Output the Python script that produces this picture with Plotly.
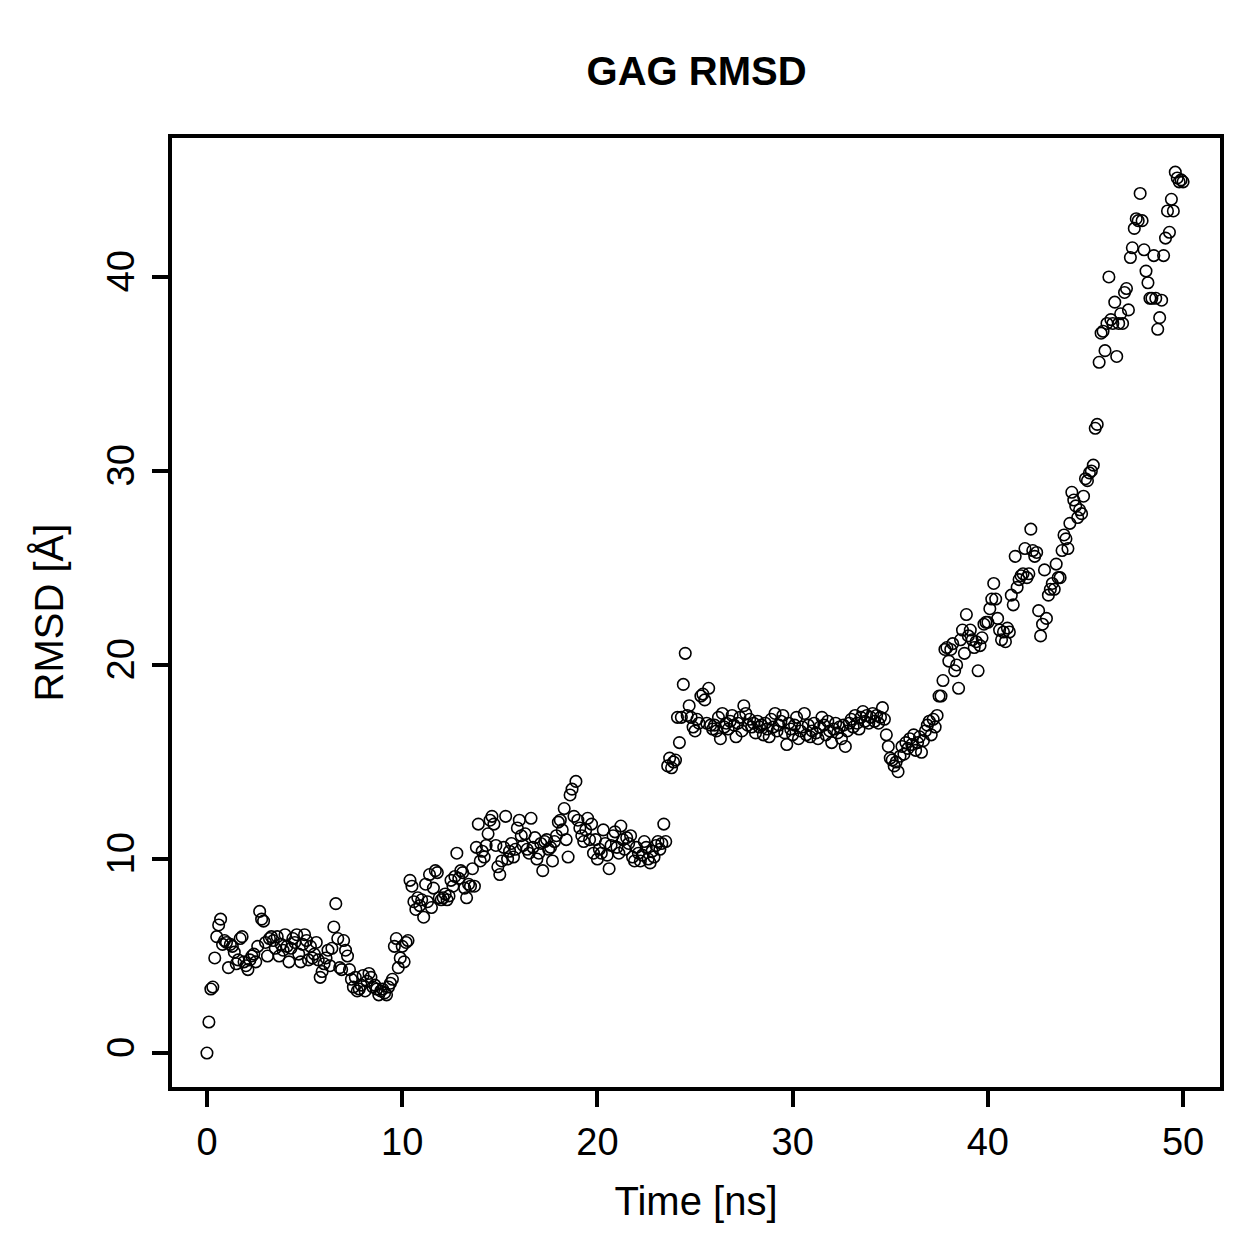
import plotly.graph_objects as go

time_ns = [round(i * 0.1, 1) for i in range(501)]

rmsd = [
    # 0-1
    0.0, 1.6, 3.3, 3.4, 4.9, 6.0, 6.6, 6.9, 5.6, 5.8,
    # 1-2
    5.7, 4.4, 5.6, 5.5, 5.2, 4.6, 4.8, 5.9, 6.0, 4.7,
    # 2-3
    4.5, 4.3, 4.8, 5.0, 5.1, 4.7, 5.5, 7.3, 6.9, 6.8,
    # 3-4
    5.7, 5.0, 5.9, 6.0, 5.8, 5.4, 6.0, 5.0, 5.6, 5.3,
    # 4-5
    6.1, 5.5, 4.7, 5.4, 5.9, 5.7, 6.1, 5.1, 4.7, 5.6,
    # 5-6
    6.1, 5.8, 4.8, 5.5, 4.9, 5.1, 5.7, 4.8, 3.9, 4.2,
    # 6-7
    4.6, 4.9, 5.3, 4.5, 5.4, 6.5, 7.7, 5.9, 4.4, 4.3,
    # 7-8
    5.8, 5.3, 5.0, 4.3, 3.8, 3.4, 3.9, 3.2, 3.3, 3.5,
    # 8-9
    4.0, 3.2, 3.7, 4.1, 3.9, 3.4, 3.5, 3.3, 3.0, 3.2,
    # 9-10
    3.3, 3.1, 3.0, 3.4, 3.6, 3.8, 5.5, 5.9, 4.4, 4.9,
    # 10-11
    5.5, 4.7, 5.7, 5.8, 8.9, 8.6, 7.8, 7.4, 8.0, 7.6,
    # 11-12
    7.9, 7.0, 8.7, 7.8, 9.2, 7.5, 8.5, 9.4, 9.3, 8.0,
    # 12-13
    7.9, 8.0, 8.2, 7.9, 8.1, 8.9, 8.6, 9.1, 10.3, 9.0,
    # 13-14
    9.4, 9.3, 8.5, 8.0, 8.7, 8.6, 9.5, 8.6, 10.6, 11.8,
    # 14-15
    9.9, 10.4, 10.1, 10.7, 11.3, 12.0, 12.2, 11.8, 10.7, 9.6,
    # 15-16
    9.2, 9.9, 10.6, 12.2, 10.0, 10.4, 10.8, 10.1, 10.5, 11.6,
    # 16-17
    12.0, 11.2, 10.7, 11.3, 10.5, 10.3, 12.1, 10.6, 11.1, 10.0,
    # 17-18
    10.3, 10.8, 9.4, 10.9, 11.0, 10.5, 10.6, 9.9, 10.9, 11.2,
    # 18-19
    11.9, 12.0, 11.5, 12.6, 11.0, 10.1, 13.3, 13.6, 12.2, 14.0,
    # 19-20
    12.0, 11.6, 11.2, 10.9, 11.5, 12.1, 11.0, 11.8, 10.3, 11.0,
    # 20-21
    10.0, 10.5, 10.3, 11.5, 10.8, 10.2, 9.5, 10.7, 11.2, 11.4,
    # 21-22
    10.6, 10.3, 11.7, 11.0, 10.5, 11.1, 10.8, 11.2, 10.1, 9.9,
    # 22-23
    10.6, 10.3, 9.9, 10.2, 10.9, 10.6, 10.0, 9.8, 10.4, 10.1,
    # 23-24
    10.7, 10.9, 10.5, 10.8, 11.8, 10.9, 14.8, 15.2, 14.7, 15.0,
    # 24-25
    15.1, 17.3, 16.0, 17.3, 19.0, 20.6, 17.4, 17.9, 17.3, 16.8,
    # 25-26
    16.6, 17.2, 17.0, 18.4, 18.5, 18.2, 17.0, 18.8, 16.9, 16.7,
    # 26-27
    16.9, 16.6, 17.3, 16.2, 17.5, 16.8, 17.0, 16.7, 17.1, 17.4,
    # 27-28
    16.9, 16.3, 17.0, 17.3, 16.6, 17.9, 17.5, 16.9, 17.2, 16.8,
    # 28-29
    17.0, 16.5, 17.1, 16.8, 16.9, 16.4, 17.0, 16.7, 16.3, 17.2,
    # 29-30
    16.8, 17.5, 16.6, 16.9, 17.1, 17.4, 16.5, 15.9, 17.0, 16.7,
    # 30-31
    16.4, 16.9, 17.3, 16.2, 16.6, 16.8, 17.5, 16.4, 16.9, 16.3,
    # 31-32
    16.6, 17.0, 16.5, 16.2, 16.8, 17.3, 16.9, 16.4, 17.1, 16.6,
    # 32-33
    16.0, 16.7, 17.0, 16.5, 16.8, 16.2, 16.9, 15.8, 16.6, 17.0,
    # 33-34
    17.2, 16.8, 17.4, 17.0, 16.7, 17.3, 17.6, 17.1, 17.4, 17.0,
    # 34-35
    17.3, 17.5, 17.1, 17.4, 17.0, 17.3, 17.8, 17.2, 16.4, 15.8,
    # 35-36
    15.2, 15.1, 14.8, 15.0, 14.5, 15.3, 15.8, 15.4, 16.0, 15.7,
    # 36-37
    16.2, 15.9, 16.4, 15.6, 16.0, 16.3, 15.5, 16.1, 16.6, 16.9,
    # 37-38
    17.1, 16.4, 17.2, 16.8, 17.4, 18.4, 18.4, 19.2, 20.8, 20.9,
    # 38-39
    20.2, 20.8, 21.1, 19.7, 20.0, 18.8, 21.3, 21.8, 20.6, 22.6,
    # 39-40
    21.5, 21.8, 21.3, 20.9, 21.2, 19.7, 21.0, 21.4, 22.1, 22.2,
    # 40-41
    22.2, 22.9, 23.4, 24.2, 23.4, 22.4, 21.8, 21.3, 21.7, 21.2,
    # 41-42
    21.9, 21.7, 23.6, 23.1, 25.6, 24.0, 24.4, 24.6, 24.7, 26.0,
    # 42-43
    24.5, 24.7, 27.0, 25.9, 25.6, 25.8, 22.8, 21.5, 22.1, 24.9,
    # 43-44
    22.4, 23.6, 23.9, 24.2, 23.9, 25.2, 24.5, 24.5, 25.9, 26.7,
    # 44-45
    26.5, 26.0, 27.3, 28.9, 28.5, 28.2, 27.6, 28.0, 27.8, 28.7,
    # 45-46
    29.6, 29.5, 29.9, 30.0, 30.3, 32.2, 32.4, 35.6, 37.1, 37.2,
    # 46-47
    36.2, 37.6, 40.0, 37.8, 37.6, 38.7, 35.9, 37.6, 38.1, 37.6,
    # 47-48
    39.2, 39.4, 38.3, 41.0, 41.5, 42.5, 43.0, 42.9, 44.3, 42.9,
    # 48-49
    41.4, 40.3, 39.7, 38.9, 38.9, 41.1, 38.9, 37.3, 37.9, 38.8,
    # 49-50
    41.1, 42.0, 43.4, 42.3, 44.0, 43.4, 45.4, 45.1, 44.9, 45.0,
    # 50
    44.9,
]

x_ticks = [0, 10, 20, 30, 40, 50]
y_ticks = [0, 10, 20, 30, 40]

title_text = "<b>GAG RMSD</b>"
x_title = "Time [ns]"
y_title = "RMSD [Å]"

FONT = "Liberation Sans, Arial, Helvetica, sans-serif"
TICK_SIZE = 38
LABEL_SIZE = 40

fig = go.Figure()
fig.add_trace(go.Scatter(
    x=time_ns, y=rmsd, mode="markers",
    marker=dict(symbol="circle-open", size=11.5, color="black",
                line=dict(color="black", width=1.6)),
    showlegend=False,
))

fig.update_layout(
    width=1259, height=1259,
    margin=dict(l=172, r=39, t=138, b=172),
    paper_bgcolor="white", plot_bgcolor="white",
    font=dict(family=FONT, color="black", size=TICK_SIZE),
    title=dict(text=title_text, x=0.5533, xanchor="center", y=0.944, yanchor="middle",
               font=dict(size=40, family=FONT, color="black")),
    xaxis=dict(
        range=[-1.79, 51.89], tickvals=x_ticks, ticktext=[str(v) for v in x_ticks],
        showgrid=False, zeroline=False,
        showline=True, linecolor="black", linewidth=4, mirror=True,
        ticks="outside", ticklen=16, tickwidth=3.5, tickcolor="black",
        tickfont=dict(size=TICK_SIZE, family=FONT), ticklabelstandoff=2,
        title=dict(text=x_title, font=dict(size=LABEL_SIZE, family=FONT), standoff=26),
    ),
    yaxis=dict(
        range=[-1.75, 47.16], tickvals=y_ticks, ticktext=[str(v) for v in y_ticks],
        showgrid=False, zeroline=False,
        showline=True, linecolor="black", linewidth=4, mirror=True,
        ticks="outside", ticklen=16, tickwidth=3.5, tickcolor="black",
        tickangle=-90, tickfont=dict(size=TICK_SIZE, family=FONT), ticklabelstandoff=3,
        title=dict(text=y_title, font=dict(size=LABEL_SIZE, family=FONT), standoff=25),
    ),
)

fig.write_html("out.html")
